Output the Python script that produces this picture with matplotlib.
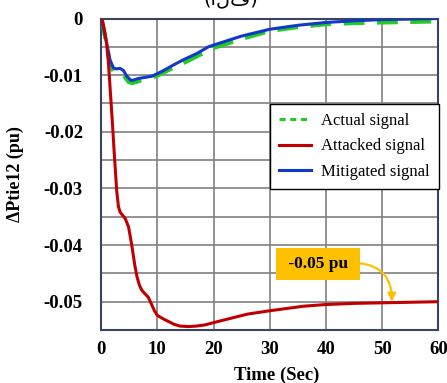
import matplotlib
matplotlib.use("Agg")
import matplotlib.pyplot as plt
from matplotlib.lines import Line2D

# ---------------- data ----------------
t_attacked = [0, 0.3, 0.7, 1.0, 1.3, 1.6, 2.0, 2.4, 2.8, 3.1, 3.4, 3.8, 4.3, 4.9, 5.5,
              6.0, 6.4, 6.8, 7.2, 7.8, 8.4, 9.0, 9.5, 10.0, 11.0, 12.0, 13.0, 14.0,
              15.5, 17.0, 18.5, 20, 22, 24, 26, 28, 30, 33, 36, 40, 45, 50, 55, 60]
v_attacked = [0, -0.0005, -0.0025, -0.0045, -0.0075, -0.012, -0.018, -0.0245, -0.0305,
              -0.0332, -0.0342, -0.0347, -0.0353, -0.0368, -0.0402,
              -0.0435, -0.0456, -0.0470, -0.0479, -0.0486, -0.0492, -0.0505, -0.0516,
              -0.0524, -0.0530, -0.0535, -0.0540, -0.0543,
              -0.0544, -0.0543, -0.0541, -0.0537, -0.0532, -0.0527, -0.0522, -0.0519,
              -0.0516, -0.0512, -0.0508, -0.0505, -0.0503, -0.0502, -0.0501, -0.0500]

t_mitigated = [0, 0.4, 1.0, 1.6, 2.2, 2.7, 3.4, 4.0, 4.6, 5.3, 5.7, 6.6, 7.8, 9.0, 9.9,
               11.1, 12.9, 14.6, 17.0, 19.1, 20, 25, 30, 35, 40, 45, 50, 55, 60]
v_mitigated = [0, -0.0015, -0.0043, -0.0073, -0.0087, -0.0089, -0.0088, -0.0092, -0.0102,
               -0.0109, -0.0109, -0.0106, -0.0104, -0.0102, -0.0098,
               -0.0092, -0.0082, -0.0073, -0.0062, -0.0050, -0.0047, -0.0031, -0.0019,
               -0.0012, -0.0007, -0.0004, -0.0002, -0.0001, 0.0]

t_actual = [0, 0.4, 1.0, 1.6, 2.2, 2.8, 3.4, 4.0, 4.9, 5.5, 6.3, 7.5, 9.0, 10.0,
            12, 15, 17, 20, 25, 30, 35, 40, 45, 50, 55, 60]
v_actual = [0, -0.0016, -0.0046, -0.0082, -0.0093, -0.0093, -0.0095, -0.0100, -0.0112,
            -0.0114, -0.0112, -0.0108, -0.0104, -0.0101,
            -0.0091, -0.0077, -0.0067, -0.0052, -0.0036, -0.0022, -0.0015, -0.0010,
            -0.0008, -0.0007, -0.0006, -0.0005]

x_ticks = [0, 10, 20, 30, 40, 50, 60]
y_ticks = [0, -0.005, -0.01, -0.015, -0.02, -0.025, -0.03, -0.035, -0.04, -0.045, -0.05]
y_tick_labels = ["0", "", "-0.01", "", "-0.02", "", "-0.03", "", "-0.04", "", "-0.05"]

labels = ["Actual signal", "Attacked signal", "Mitigated signal"]
annot_text = " -0.05 pu "
annot_target = (51.7, -0.050)
annot_box = (38.6, -0.0433)
title_text = "(الف)"

# ---------------- styling ----------------
serif = ["Liberation Serif", "DejaVu Serif"]
c_green = "#22CC22"
c_red = "#C00000"
c_blue = "#1038CC"

fig = plt.figure(figsize=(4.47, 3.83), dpi=100)
ax = fig.add_axes([101 / 447, 1 - 330 / 383, 337.5 / 447, 311.5 / 383])

ax.plot(t_actual, v_actual, color=c_green, lw=3.0, dashes=(5, 3), zorder=3)
ax.plot(t_mitigated, v_mitigated, color=c_blue, lw=2.2, zorder=4)
ax.plot(t_attacked, v_attacked, color=c_red, lw=2.2, zorder=5)

ax.set_xlim(0, 60)
ax.set_ylim(-0.055, 0)
ax.set_xticks(x_ticks)
ax.set_xticklabels([str(v) for v in x_ticks], fontfamily=serif, fontweight="bold", fontsize=13.5)
ax.set_yticks(y_ticks)
ax.set_yticklabels(y_tick_labels, fontfamily=serif, fontweight="bold", fontsize=13.5)
ax.tick_params(axis="both", length=0)
ax.tick_params(axis="y", pad=13)
ax.tick_params(axis="x", pad=8)
ax.grid(True, color="#808080", lw=1.2)
ax.set_axisbelow(True)
for s in ax.spines.values():
    s.set_color("#3a4460")
    s.set_linewidth(1.5)

ax.set_ylabel("ΔPtie12 (pu)", fontfamily=serif, fontweight="bold", fontsize=13)
ax.yaxis.set_label_coords(-0.228, 0.5)
ax.set_xlabel("Time (Sec)", fontfamily=serif, fontweight="bold", fontsize=13.5)
ax.xaxis.set_label_coords(0.52, -0.118)

handles = [Line2D([], [], color=c_green, lw=2.2, dashes=(2, 1.5)),
           Line2D([], [], color=c_red, lw=2.2),
           Line2D([], [], color=c_blue, lw=2.2)]
leg = ax.legend(handles, labels, loc="upper right", bbox_to_anchor=(1.0, 1 - (104 - 18.5) / 311.5),
                prop={"family": serif, "size": 12}, frameon=True, fancybox=False,
                edgecolor="black", framealpha=1, borderaxespad=0, handlelength=1.9,
                handletextpad=0.6, labelspacing=0.55, borderpad=0.55)
leg.get_frame().set_linewidth(1.0)

ax.annotate(annot_text, xy=annot_target, xytext=annot_box,
            ha="center", va="center", fontfamily=serif, fontweight="bold", fontsize=12.5,
            bbox=dict(boxstyle="square,pad=0.45", fc="#FFC000", ec="none"),
            arrowprops=dict(arrowstyle="-|>", color="#FFC000", lw=1.6,
                            connectionstyle="angle3,angleA=0,angleB=-90",
                            relpos=(1.0, 0.55), shrinkA=0, shrinkB=0,
                            mutation_scale=12),
            zorder=6)

fig.text(231 / 447, 1 - 4 / 383, title_text, ha="center", va="baseline",
         fontfamily="DejaVu Sans", fontsize=14)

fig.savefig("out.png", dpi=100)
